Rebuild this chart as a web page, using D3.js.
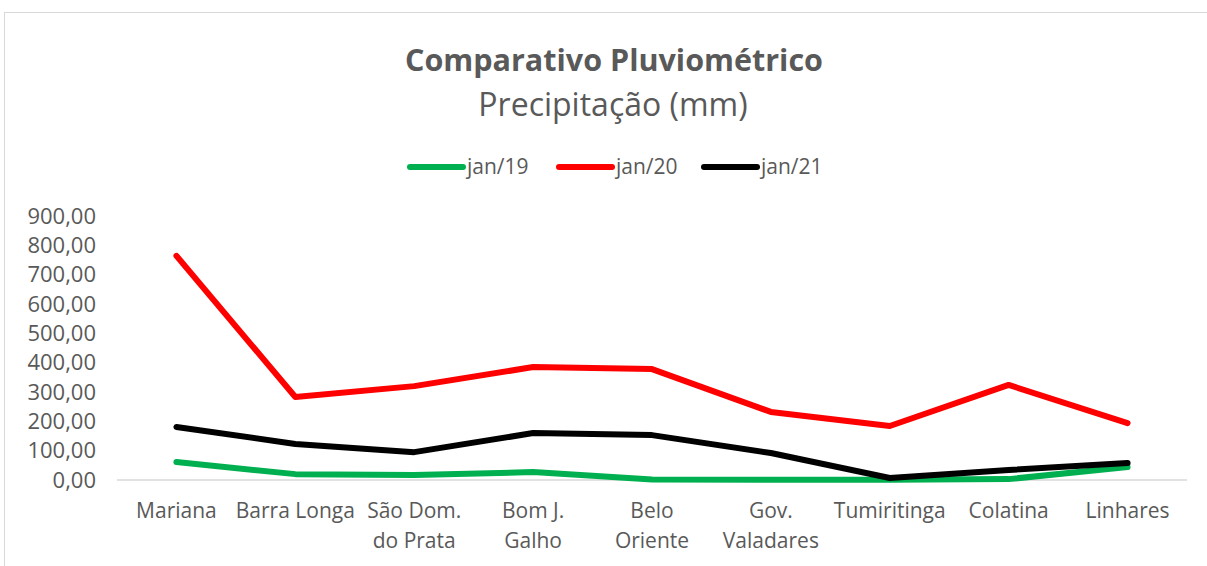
<!DOCTYPE html>
<html>
<head>
<meta charset="utf-8">
<script src="https://cdn.jsdelivr.net/npm/d3@7"></script>
<style>
  body { margin: 0; background: #fff; }
  text { font-family: "Open Sans", Lato, sans-serif; fill: #595959; }
</style>
</head>
<body>
<div id="chart"></div>
<script>
var cidades = [["Mariana"], ["Barra Longa"], ["São Dom.", "do Prata"], ["Bom J.", "Galho"], ["Belo", "Oriente"],
	["Gov.", "Valadares"], ["Tumiritinga"], ["Colatina"], ["Linhares"]];
var series = ["jan/19", "jan/20", "jan/21"];
var jan19 = [61, 20, 17, 27, 2, 1, 1, 3, 44];
var jan20 = [764, 283, 320, 385, 378, 232, 184, 324, 194];
var jan21 = [181, 123, 95, 160, 153, 92, 7, 34, 58];
var yTicks = [0, 100, 200, 300, 400, 500, 600, 700, 800, 900];

var cores = ["#00b050", "#ff0000", "#000000"];
var valores = [jan19, jan20, jan21];

var width = 1207, height = 566;
var margin = {top: 216, right: 20, bottom: 86, left: 117};
var chartWidth = 1187 - margin.left;

var svg = d3.select("#chart").append("svg")
	.attr("width", width)
	.attr("height", height);

// chart border
svg.append("rect")
	.attr("x", 4.5).attr("y", 12.5)
	.attr("width", width + 10).attr("height", height + 10)
	.attr("fill", "none").attr("stroke", "#d9d9d9");

var x = d3.scaleBand()
	.domain(d3.range(cidades.length))
	.range([margin.left, margin.left + chartWidth]);

var y = d3.scaleLinear()
	.domain([0, 900])
	.range([480, margin.top]);

var br = d3.formatLocale({decimal: ",", thousands: ".", grouping: [3], currency: ["R$", ""]});
var fmt = br.format(".2f");

// y axis labels
var yAxis = svg.append("g")
	.attr("transform", "translate(" + (margin.left - 21) + ",0)")
	.call(d3.axisLeft(y).tickValues(yTicks).tickFormat(fmt).tickSize(0).tickPadding(0));
yAxis.select(".domain").remove();
yAxis.selectAll("text")
	.style("font-size", "22px")
	.attr("fill", "#595959");

// baseline
svg.append("line")
	.attr("x1", margin.left).attr("x2", margin.left + chartWidth)
	.attr("y1", y(0)).attr("y2", y(0))
	.attr("stroke", "#d9d9d9").attr("stroke-width", 1.5);

// x labels
var xl = svg.append("g").selectAll("text")
	.data(cidades)
	.enter().append("text")
	.attr("x", function(d, i) { return x(i) + x.bandwidth() / 2; })
	.attr("y", 518)
	.attr("text-anchor", "middle")
	.style("font-size", "21px");
xl.selectAll("tspan")
	.data(function(d) { return d; })
	.enter().append("tspan")
	.attr("x", function() { return d3.select(this.parentNode).attr("x"); })
	.attr("dy", function(d, i) { return i == 0 ? 0 : 30; })
	.text(function(d) { return d; });

var line = d3.line()
	.x(function(d, i) { return x(i) + x.bandwidth() / 2; })
	.y(function(d) { return y(d); });

svg.append("g").selectAll("path")
	.data(valores)
	.enter().append("path")
	.attr("d", line)
	.attr("fill", "none")
	.attr("stroke", function(d, i) { return cores[i]; })
	.attr("stroke-width", 6)
	.attr("stroke-linejoin", "round")
	.attr("stroke-linecap", "round");

// title
svg.append("text")
	.attr("x", 614).attr("y", 71)
	.attr("text-anchor", "middle")
	.style("font-size", "30.5px")
	.style("font-weight", "bold")
	.text("Comparativo Pluviométrico");

svg.append("text")
	.attr("x", 613).attr("y", 116)
	.attr("text-anchor", "middle")
	.style("font-size", "32px")
	.text("Precipitação (mm)");

// legend
var legX = [408, 557, 702];
var leg = svg.append("g").selectAll("g")
	.data(series)
	.enter().append("g")
	.attr("transform", function(d, i) { return "translate(" + legX[i] + ",167)"; });
leg.append("line")
	.attr("x1", 2).attr("x2", 55)
	.attr("stroke", function(d, i) { return cores[i]; })
	.attr("stroke-width", 6)
	.attr("stroke-linecap", "round");
leg.append("text")
	.attr("x", 59)
	.attr("dy", ".35em")
	.style("font-size", "21px")
	.text(function(d) { return d; });
</script>
</body>
</html>
